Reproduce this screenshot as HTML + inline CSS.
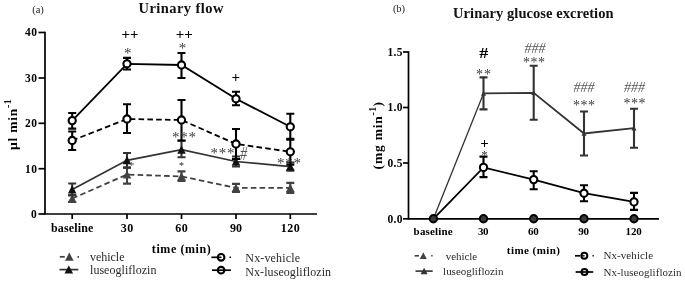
<!DOCTYPE html><html><head><meta charset="utf-8"><title>Figure</title><style>html,body{margin:0;padding:0;background:#fff}body{width:685px;height:283px;overflow:hidden}svg{display:block}text{font-family:"Liberation Serif",serif}</style></head><body>
<svg width="685" height="283" viewBox="0 0 685 283">
<rect width="685" height="283" fill="#fff"/>
<text x="38" y="13" font-size="10.5" font-weight="normal" text-anchor="middle" fill="#222">(a)</text>
<text x="138.6" y="12.9" font-size="14.5" font-weight="bold" text-anchor="start" fill="#111" textLength="84.8" lengthAdjust="spacing">Urinary flow</text>
<path d="M45 31.7V214H317" stroke="#000" stroke-width="1.7" fill="none"/>
<path d="M38.5 32.5H45" stroke="#000" stroke-width="1.7"/>
<text x="25" y="36.4" font-size="11.5" font-weight="bold" text-anchor="start" fill="#000" textLength="12" lengthAdjust="spacing">40</text>
<path d="M38.5 78H45" stroke="#000" stroke-width="1.7"/>
<text x="25" y="81.9" font-size="11.5" font-weight="bold" text-anchor="start" fill="#000" textLength="12" lengthAdjust="spacing">30</text>
<path d="M38.5 123.3H45" stroke="#000" stroke-width="1.7"/>
<text x="25" y="127.2" font-size="11.5" font-weight="bold" text-anchor="start" fill="#000" textLength="12" lengthAdjust="spacing">20</text>
<path d="M38.5 168.7H45" stroke="#000" stroke-width="1.7"/>
<text x="25" y="172.6" font-size="11.5" font-weight="bold" text-anchor="start" fill="#000" textLength="12" lengthAdjust="spacing">10</text>
<path d="M38.5 214H45" stroke="#000" stroke-width="1.7"/>
<text x="31" y="217.9" font-size="11.5" font-weight="bold" text-anchor="start" fill="#000" textLength="6" lengthAdjust="spacing">0</text>
<path d="M72.2 214V219" stroke="#000" stroke-width="1.7"/>
<path d="M127 214V219" stroke="#000" stroke-width="1.7"/>
<path d="M181.5 214V219" stroke="#000" stroke-width="1.7"/>
<path d="M236 214V219" stroke="#000" stroke-width="1.7"/>
<path d="M290.3 214V219" stroke="#000" stroke-width="1.7"/>
<text x="50.95" y="232.2" font-size="12" font-weight="bold" text-anchor="start" fill="#000" textLength="42.5" lengthAdjust="spacing">baseline</text>
<text x="120.8" y="232.2" font-size="12" font-weight="bold" text-anchor="start" fill="#000" textLength="12.4" lengthAdjust="spacing">30</text>
<text x="175.3" y="232.2" font-size="12" font-weight="bold" text-anchor="start" fill="#000" textLength="12.4" lengthAdjust="spacing">60</text>
<text x="230" y="232.2" font-size="12" font-weight="bold" text-anchor="start" fill="#000" textLength="12" lengthAdjust="spacing">90</text>
<text x="280.8" y="232.2" font-size="12" font-weight="bold" text-anchor="start" fill="#000" textLength="19" lengthAdjust="spacing">120</text>
<text x="151.8" y="253.3" font-size="12" font-weight="bold" text-anchor="start" fill="#000" textLength="59" lengthAdjust="spacing">time (min)</text>
<text transform="translate(17.3,150.1) rotate(-90)" font-size="13.5" font-weight="bold" fill="#000" letter-spacing="0.8">µl min<tspan dy="-6.5" font-size="10" letter-spacing="0.3">-1</tspan></text>
<path d="M72.2 198.5 L127 174.6 L181.5 176.4 L236 187.9 L290.3 187.9" stroke="#424242" stroke-width="1.8" fill="none" stroke-dasharray="5.6 3.2"/>
<path d="M72.2 195V202M68.2 195H76.2M68.2 202H76.2" stroke="#424242" stroke-width="2.1" fill="none"/>
<path d="M72.2 194.29L76.5 202.5H67.9Z" fill="#424242"/>
<path d="M127 167.6V183.6M123 167.6H131M123 183.6H131" stroke="#424242" stroke-width="2.1" fill="none"/>
<path d="M127 170.39L131.3 178.6H122.7Z" fill="#424242"/>
<path d="M181.5 171.4V180.9M177.5 171.4H185.5M177.5 180.9H185.5" stroke="#424242" stroke-width="2.1" fill="none"/>
<path d="M181.5 172.19L185.8 180.4H177.2Z" fill="#424242"/>
<path d="M236 183.9V191.9M232 183.9H240M232 191.9H240" stroke="#424242" stroke-width="2.1" fill="none"/>
<path d="M236 183.69L240.3 191.9H231.7Z" fill="#424242"/>
<path d="M290.3 182.9V192.9M286.3 182.9H294.3M286.3 192.9H294.3" stroke="#424242" stroke-width="2.1" fill="none"/>
<path d="M290.3 183.69L294.6 191.9H286Z" fill="#424242"/>
<path d="M72.2 189.5 L127 160.3 L181.5 149.7 L236 161.5 L290.3 166.6" stroke="#333" stroke-width="1.7" fill="none"/>
<path d="M72.2 183.5V195.5M68.2 183.5H76.2M68.2 195.5H76.2" stroke="#333" stroke-width="2.1" fill="none"/>
<path d="M72.2 185.29L76.5 193.5H67.9Z" fill="#111"/>
<path d="M127 153V167.6M123 153H131M123 167.6H131" stroke="#333" stroke-width="2.1" fill="none"/>
<path d="M127 156.09L131.3 164.3H122.7Z" fill="#111"/>
<path d="M181.5 140.7V157.3M177.5 140.7H185.5M177.5 157.3H185.5" stroke="#333" stroke-width="2.1" fill="none"/>
<path d="M181.5 145.49L185.8 153.7H177.2Z" fill="#111"/>
<path d="M236 156.5V166.5M232 156.5H240M232 166.5H240" stroke="#333" stroke-width="2.1" fill="none"/>
<path d="M236 157.29L240.3 165.5H231.7Z" fill="#111"/>
<path d="M290.3 162.6V170.6M286.3 162.6H294.3M286.3 170.6H294.3" stroke="#333" stroke-width="2.1" fill="none"/>
<path d="M290.3 162.39L294.6 170.6H286Z" fill="#111"/>
<path d="M72.2 140.5 L127 119 L181.5 120 L236 144 L290.3 151.8" stroke="#000" stroke-width="1.8" fill="none" stroke-dasharray="5.6 3.2"/>
<path d="M72.2 131.5V150M68.2 131.5H76.2M68.2 150H76.2" stroke="#000" stroke-width="2.1" fill="none"/>
<circle cx="72.2" cy="140.5" r="3.6" stroke="#000" stroke-width="2.1" fill="#fff"/>
<path d="M127 104.2V133M123 104.2H131M123 133H131" stroke="#000" stroke-width="2.1" fill="none"/>
<circle cx="127" cy="119" r="3.6" stroke="#000" stroke-width="2.1" fill="#fff"/>
<path d="M181.5 100V140.5M177.5 100H185.5M177.5 140.5H185.5" stroke="#000" stroke-width="2.1" fill="none"/>
<circle cx="181.5" cy="120" r="3.6" stroke="#000" stroke-width="2.1" fill="#fff"/>
<path d="M236 129V159M232 129H240M232 159H240" stroke="#000" stroke-width="2.1" fill="none"/>
<circle cx="236" cy="144" r="3.6" stroke="#000" stroke-width="2.1" fill="#fff"/>
<path d="M290.3 138.8V164.8M286.3 138.8H294.3M286.3 164.8H294.3" stroke="#000" stroke-width="2.1" fill="none"/>
<circle cx="290.3" cy="151.8" r="3.6" stroke="#000" stroke-width="2.1" fill="#fff"/>
<path d="M72.2 120.6 L127 63.8 L181.5 65 L236 98.8 L290.3 126.8" stroke="#000" stroke-width="1.8" fill="none"/>
<path d="M72.2 113V128.6M68.2 113H76.2M68.2 128.6H76.2" stroke="#000" stroke-width="2.1" fill="none"/>
<circle cx="72.2" cy="120.6" r="3.6" stroke="#000" stroke-width="2.1" fill="#fff"/>
<path d="M127 57.9V69.5M123 57.9H131M123 69.5H131" stroke="#000" stroke-width="2.1" fill="none"/>
<circle cx="127" cy="63.8" r="3.6" stroke="#000" stroke-width="2.1" fill="#fff"/>
<path d="M181.5 53V78M177.5 53H185.5M177.5 78H185.5" stroke="#000" stroke-width="2.1" fill="none"/>
<circle cx="181.5" cy="65" r="3.6" stroke="#000" stroke-width="2.1" fill="#fff"/>
<path d="M236 91.8V105.3M232 91.8H240M232 105.3H240" stroke="#000" stroke-width="2.1" fill="none"/>
<circle cx="236" cy="98.8" r="3.6" stroke="#000" stroke-width="2.1" fill="#fff"/>
<path d="M290.3 113.8V139.8M286.3 113.8H294.3M286.3 139.8H294.3" stroke="#000" stroke-width="2.1" fill="none"/>
<circle cx="290.3" cy="126.8" r="3.6" stroke="#000" stroke-width="2.1" fill="#fff"/>
<text x="130" y="39.23" font-size="15" font-weight="bold" text-anchor="middle" fill="#000">++</text>
<text x="184.2" y="38.82" font-size="15" font-weight="bold" text-anchor="middle" fill="#000">++</text>
<text x="235.7" y="82.03" font-size="15" font-weight="bold" text-anchor="middle" fill="#000">+</text>
<text x="128.1" y="58.05" font-size="15" font-weight="normal" text-anchor="middle" fill="#3a3a3a" letter-spacing="0.8">*</text>
<text x="182.9" y="53.05" font-size="15" font-weight="normal" text-anchor="middle" fill="#3a3a3a" letter-spacing="0.8">*</text>
<text x="184.4" y="141.55" font-size="15" font-weight="normal" text-anchor="middle" fill="#3a3a3a" letter-spacing="0.8">***</text>
<text x="222.9" y="158.45" font-size="15" font-weight="normal" text-anchor="middle" fill="#3a3a3a" letter-spacing="0.8">***</text>
<text transform="translate(243.5,160.17) scale(0.75,1)" font-size="19" font-style="italic" text-anchor="middle" fill="#555">#</text>
<text x="289.4" y="167.75" font-size="15" font-weight="normal" text-anchor="middle" fill="#3a3a3a" letter-spacing="0.8">***</text>
<text x="181.5" y="169.2" font-size="10" font-weight="normal" text-anchor="middle" fill="#222" letter-spacing="0">*</text>
<text x="131.7" y="169.3" font-size="10" font-weight="normal" text-anchor="middle" fill="#444" letter-spacing="0">*</text>
<path d="M59.8 256.8 L64.8 256.8" stroke="#424242" stroke-width="1.7" fill="none"/>
<path d="M69.3 252.59L73.6 260.8H65Z" fill="#424242"/>
<path d="M77.5 256.8 L79 256.8" stroke="#424242" stroke-width="1.7" fill="none"/>
<path d="M59.5 269.6 L78.3 269.6" stroke="#333" stroke-width="1.7" fill="none"/>
<path d="M68.8 265.39L73.1 273.6H64.5Z" fill="#111"/>
<text x="90" y="261" font-size="12" font-weight="normal" text-anchor="start" fill="#2a2a2a" textLength="34.5" lengthAdjust="spacing">vehicle</text>
<text x="90" y="273.5" font-size="12" font-weight="normal" text-anchor="start" fill="#2a2a2a" textLength="66.5" lengthAdjust="spacing">luseogliflozin</text>
<path d="M211.4 257.3 L217 257.3" stroke="#000" stroke-width="1.7" fill="none"/>
<circle cx="221.1" cy="257.3" r="3.3" stroke="#000" stroke-width="2.1" fill="#fff"/>
<path d="M218 257.3 L221.5 257.3" stroke="#000" stroke-width="1.5" fill="none"/>
<path d="M229.5 257.3 L230.9 257.3" stroke="#000" stroke-width="1.5" fill="none"/>
<circle cx="221.1" cy="270.2" r="3.3" stroke="#000" stroke-width="2.1" fill="#fff"/>
<path d="M212 270.2 L230.9 270.2" stroke="#000" stroke-width="1.7" fill="none"/>
<text x="245.3" y="261.6" font-size="12" font-weight="normal" text-anchor="start" fill="#2a2a2a" textLength="54.8" lengthAdjust="spacing">Nx-vehicle</text>
<text x="245.3" y="275.5" font-size="12" font-weight="normal" text-anchor="start" fill="#2a2a2a" textLength="85.8" lengthAdjust="spacing">Nx-luseogliflozin</text>
<text x="399" y="12" font-size="10.5" font-weight="normal" text-anchor="middle" fill="#222">(b)</text>
<text x="453.05" y="18" font-size="14.5" font-weight="bold" text-anchor="start" fill="#111" textLength="160.5" lengthAdjust="spacing">Urinary glucose excretion</text>
<path d="M408.5 51.2V218.8H659" stroke="#000" stroke-width="1.7" fill="none"/>
<path d="M403.0 52H408.5" stroke="#000" stroke-width="1.7"/>
<text x="387.6" y="55.9" font-size="11.5" font-weight="bold" text-anchor="start" fill="#000" textLength="14.9" lengthAdjust="spacing">1.5</text>
<path d="M403.0 107.5H408.5" stroke="#000" stroke-width="1.7"/>
<text x="387.6" y="111.4" font-size="11.5" font-weight="bold" text-anchor="start" fill="#000" textLength="14.9" lengthAdjust="spacing">1.0</text>
<path d="M403.0 163H408.5" stroke="#000" stroke-width="1.7"/>
<text x="387.6" y="166.9" font-size="11.5" font-weight="bold" text-anchor="start" fill="#000" textLength="14.9" lengthAdjust="spacing">0.5</text>
<path d="M403.0 218.8H408.5" stroke="#000" stroke-width="1.7"/>
<text x="387.6" y="222.7" font-size="11.5" font-weight="bold" text-anchor="start" fill="#000" textLength="14.9" lengthAdjust="spacing">0.0</text>
<text x="413.6" y="234.6" font-size="11" font-weight="bold" text-anchor="start" fill="#000" textLength="39" lengthAdjust="spacing">baseline</text>
<text x="477.9" y="234.6" font-size="11" font-weight="bold" text-anchor="start" fill="#000" textLength="10.6" lengthAdjust="spacing">30</text>
<text x="528" y="234.6" font-size="11" font-weight="bold" text-anchor="start" fill="#000" textLength="10.8" lengthAdjust="spacing">60</text>
<text x="578.3" y="234.6" font-size="11" font-weight="bold" text-anchor="start" fill="#000" textLength="10.8" lengthAdjust="spacing">90</text>
<text x="625.6" y="234.6" font-size="11" font-weight="bold" text-anchor="start" fill="#000" textLength="16.2" lengthAdjust="spacing">120</text>
<text x="506.8" y="254.4" font-size="11" font-weight="bold" text-anchor="start" fill="#000" textLength="53.2" lengthAdjust="spacing">time (min)</text>
<text transform="translate(381.6,169.4) rotate(-90)" font-size="13.5" font-weight="bold" fill="#000" letter-spacing="0.8">(mg min<tspan dy="-6" font-size="10" letter-spacing="0.3">-1</tspan><tspan dy="6">)</tspan></text>
<path d="M433.4 218.8 L483.5 93.4" stroke="#333" stroke-width="1.3" fill="none"/>
<path d="M483.5 93.4 L533.7 92.8 L584 133.5 L634 128.2" stroke="#333" stroke-width="1.8" fill="none"/>
<path d="M483.5 77.4V109.4M479.5 77.4H487.5M479.5 109.4H487.5" stroke="#333" stroke-width="2.1" fill="none"/>
<path d="M483.5 90.95L486 95.73H481Z" fill="#333"/>
<path d="M533.7 65.8V119.8M529.7 65.8H537.7M529.7 119.8H537.7" stroke="#333" stroke-width="2.1" fill="none"/>
<path d="M533.7 90.35L536.2 95.12H531.2Z" fill="#333"/>
<path d="M584 111.5V155.5M580 111.5H588M580 155.5H588" stroke="#333" stroke-width="2.1" fill="none"/>
<path d="M584 131.05L586.5 135.82H581.5Z" fill="#333"/>
<path d="M634 108.7V147.7M630 108.7H638M630 147.7H638" stroke="#333" stroke-width="2.1" fill="none"/>
<path d="M634 125.75L636.5 130.52H631.5Z" fill="#333"/>
<path d="M433.4 218.8 L483.5 167.4 L533.7 179.6 L584 193.2 L634 201.9" stroke="#000" stroke-width="1.8" fill="none"/>
<path d="M483.5 156.6V177.1M479.5 156.6H487.5M479.5 177.1H487.5" stroke="#000" stroke-width="2.1" fill="none"/>
<circle cx="483.5" cy="167.4" r="3.6" stroke="#000" stroke-width="2.1" fill="#fff"/>
<path d="M533.7 171.3V189.2M529.7 171.3H537.7M529.7 189.2H537.7" stroke="#000" stroke-width="2.1" fill="none"/>
<circle cx="533.7" cy="179.6" r="3.6" stroke="#000" stroke-width="2.1" fill="#fff"/>
<path d="M584 185.2V201.2M580 185.2H588M580 201.2H588" stroke="#000" stroke-width="2.1" fill="none"/>
<circle cx="584" cy="193.2" r="3.6" stroke="#000" stroke-width="2.1" fill="#fff"/>
<path d="M634 192.9V209.9M630 192.9H638M630 209.9H638" stroke="#000" stroke-width="2.1" fill="none"/>
<circle cx="634" cy="201.9" r="3.6" stroke="#000" stroke-width="2.1" fill="#fff"/>
<circle cx="433.4" cy="218.8" r="3.7" stroke="#000" stroke-width="2" fill="#3a3a3a"/>
<circle cx="483.5" cy="218.8" r="3.7" stroke="#000" stroke-width="2" fill="#3a3a3a"/>
<circle cx="533.7" cy="218.8" r="3.7" stroke="#000" stroke-width="2" fill="#3a3a3a"/>
<circle cx="584" cy="218.8" r="3.7" stroke="#000" stroke-width="2" fill="#3a3a3a"/>
<circle cx="634" cy="218.8" r="3.7" stroke="#000" stroke-width="2" fill="#3a3a3a"/>
<text transform="translate(483.7,57.95) scale(1.2,1)" font-size="15" font-weight="bold" text-anchor="middle" fill="#000">#</text>
<text x="484" y="79.28" font-size="14" font-weight="normal" text-anchor="middle" fill="#3a3a3a" letter-spacing="1">**</text>
<text x="535" y="53.42" font-size="14" font-weight="normal" text-anchor="middle" fill="#555" font-style="italic">###</text>
<text x="534.3" y="67.38" font-size="14" font-weight="normal" text-anchor="middle" fill="#3a3a3a" letter-spacing="0.6">***</text>
<text x="584" y="92.42" font-size="14" font-weight="normal" text-anchor="middle" fill="#555" font-style="italic">###</text>
<text x="584.3" y="109.58" font-size="14" font-weight="normal" text-anchor="middle" fill="#3a3a3a" letter-spacing="0.6">***</text>
<text x="634.5" y="92.42" font-size="14" font-weight="normal" text-anchor="middle" fill="#555" font-style="italic">###</text>
<text x="634.8" y="108.38" font-size="14" font-weight="normal" text-anchor="middle" fill="#3a3a3a" letter-spacing="0.6">***</text>
<text x="484.5" y="147.62" font-size="15" font-weight="bold" text-anchor="middle" fill="#000">+</text>
<text x="484.5" y="158.91" font-size="13" font-weight="normal" text-anchor="middle" fill="#3a3a3a" letter-spacing="0">*</text>
<path d="M414.6 255.8 L419 255.8" stroke="#424242" stroke-width="1.6" fill="none"/>
<path d="M423.3 252.37L426.8 259.06H419.8Z" fill="#424242"/>
<path d="M431.2 255.8 L432.6 255.8" stroke="#424242" stroke-width="1.6" fill="none"/>
<path d="M415.5 271.1 L432.7 271.1" stroke="#333" stroke-width="1.6" fill="none"/>
<path d="M424.1 267.67L427.6 274.36H420.6Z" fill="#333"/>
<text x="445.7" y="259.7" font-size="11" font-weight="normal" text-anchor="start" fill="#2a2a2a" textLength="31.4" lengthAdjust="spacing">vehicle</text>
<text x="443.1" y="274.8" font-size="11" font-weight="normal" text-anchor="start" fill="#2a2a2a" textLength="60.3" lengthAdjust="spacing">luseogliflozin</text>
<path d="M575 255.8 L580 255.8" stroke="#000" stroke-width="1.7" fill="none"/>
<circle cx="584.3" cy="255.8" r="3" stroke="#000" stroke-width="2" fill="#fff"/>
<path d="M581.5 255.8 L584.6 255.8" stroke="#000" stroke-width="1.4" fill="none"/>
<path d="M592.5 255.8 L593.8 255.8" stroke="#000" stroke-width="1.5" fill="none"/>
<circle cx="584.5" cy="272" r="3" stroke="#000" stroke-width="2" fill="#fff"/>
<path d="M575.6 272 L593.2 272" stroke="#000" stroke-width="1.7" fill="none"/>
<text x="603.4" y="259" font-size="11" font-weight="normal" text-anchor="start" fill="#2a2a2a" textLength="49.7" lengthAdjust="spacing">Nx-vehicle</text>
<text x="603.4" y="276" font-size="11" font-weight="normal" text-anchor="start" fill="#2a2a2a" textLength="78.1" lengthAdjust="spacing">Nx-luseogliflozin</text>
</svg></body></html>
